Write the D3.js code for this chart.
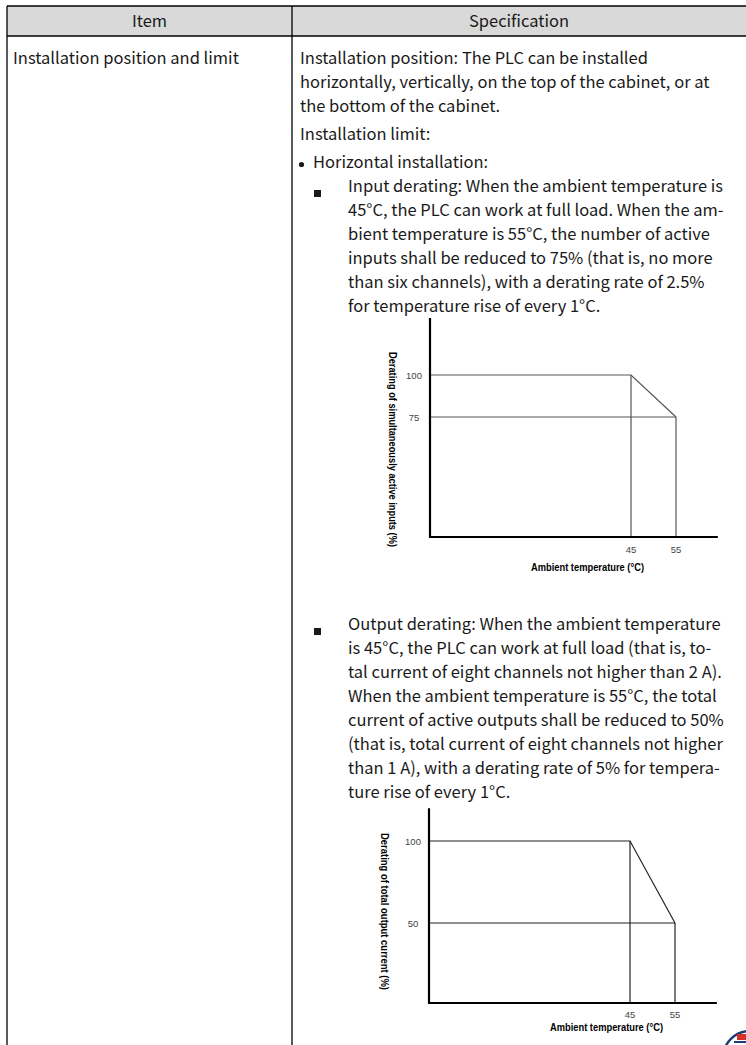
<!DOCTYPE html>
<html><head><meta charset="utf-8">
<script src="https://cdn.jsdelivr.net/npm/d3@7"></script>
<style>body{margin:0;background:#fff}svg{display:block}</style>
</head><body>
<script>
// ---- data ----
const headers = ["Item", "Specification"];
const itemText = "Installation position and limit";
const specPara1 = [
  "Installation position: The PLC can be installed",
  "horizontally, vertically, on the top of the cabinet, or at",
  "the bottom of the cabinet."
];
const specLimit = "Installation limit:";
const specBullet = "Horizontal installation:";
const inputText = [
  "Input derating: When the ambient temperature is",
  "45°C, the PLC can work at full load. When the am-",
  "bient temperature is 55°C, the number of active",
  "inputs shall be reduced to 75% (that is, no more",
  "than six channels), with a derating rate of 2.5%",
  "for temperature rise of every 1°C."
];
const outputText = [
  "Output derating: When the ambient temperature",
  "is 45°C, the PLC can work at full load (that is, to-",
  "tal current of eight channels not higher than 2 A).",
  "When the ambient temperature is 55°C, the total",
  "current of active outputs shall be reduced to 50%",
  "(that is, total current of eight channels not higher",
  "than 1 A), with a derating rate of 5% for tempera-",
  "ture rise of every 1°C."
];
const tempTicks = [45, 55];
const inputTicksY = [100, 75];
const inputCurve = [[0, 100], [45, 100], [55, 75]];
const outputTicksY = [100, 50];
const outputCurve = [[0, 100], [45, 100], [55, 50]];
const xTitle = "Ambient temperature (°C)";
const inputYTitle = "Derating of simultaneously active inputs (%)";
const outputYTitle = "Derating of total output current (%)";

// ---- drawing ----
const W = 746, H = 1045;
const svg = d3.select("body").append("svg").attr("width", W).attr("height", H);
const FONT = "'Noto Sans CJK SC','Noto Sans',sans-serif";
const TXT = "#1a1a1a";
const FS = 16.5, LH = 24;

const tbl = {left: 7, top: 6, headBot: 36, mid: 292, right: 760, bottom: 1060};
svg.append("rect").attr("x", tbl.left).attr("y", tbl.top)
  .attr("width", tbl.right - tbl.left).attr("height", tbl.headBot - tbl.top)
  .attr("fill", "#d9d9d9");
const lineG = svg.append("g").attr("stroke", "#000").attr("stroke-width", 1.3);
lineG.append("line").attr("x1", tbl.left).attr("x2", tbl.right).attr("y1", tbl.top).attr("y2", tbl.top);
lineG.append("line").attr("x1", tbl.left).attr("x2", tbl.right).attr("y1", tbl.headBot).attr("y2", tbl.headBot);
lineG.append("line").attr("x1", tbl.left).attr("x2", tbl.left).attr("y1", tbl.top).attr("y2", tbl.bottom);
lineG.append("line").attr("x1", tbl.mid).attr("x2", tbl.mid).attr("y1", tbl.top).attr("y2", tbl.bottom);

const hx = [(tbl.left + tbl.mid) / 2, (tbl.mid + W) / 2];
svg.selectAll("text.head").data(headers).join("text").attr("class", "head")
  .attr("x", (d, i) => hx[i]).attr("y", 26.5).attr("text-anchor", "middle")
  .attr("font-family", FONT).attr("font-size", FS).attr("fill", TXT).text(d => d);

function textLines(lines, x, y0) {
  svg.append("g").selectAll("text").data(lines).join("text")
    .attr("x", x).attr("y", (d, i) => y0 + i * LH)
    .attr("font-family", FONT).attr("font-size", FS).attr("fill", TXT).text(d => d);
}
textLines([itemText], 13, 64);
textLines(specPara1, 300, 64);
textLines([specLimit], 300, 140);
svg.append("circle").attr("cx", 301.5).attr("cy", 164.5).attr("r", 2.6).attr("fill", TXT);
textLines([specBullet], 313, 168);
svg.append("rect").attr("x", 314).attr("y", 190).attr("width", 7).attr("height", 7).attr("fill", TXT);
textLines(inputText, 348, 192);

const outY0 = 630;
svg.append("rect").attr("x", 314).attr("y", outY0 - 2).attr("width", 7).attr("height", 7).attr("fill", TXT);
textLines(outputText, 348, outY0);

function chart(cfg) {
  const x = d3.scaleLinear().domain([0, 45, 55]).range([cfg.x0, cfg.x0 + 201, cfg.x0 + 246]);
  const y = d3.scaleLinear().domain(cfg.yDom).range(cfg.yRange);
  const g = svg.append("g");
  const c = cfg.curve;
  const line = d3.line().x(d => x(d[0])).y(d => y(d[1]));
  const guides = [
    [[c[2][0], 0], [c[2][0], c[2][1]]],
    [[c[1][0], 0], [c[1][0], c[1][1]]],
    [[0, c[2][1]], [c[2][0], c[2][1]]]
  ];
  g.selectAll("path.guide").data(guides).join("path").attr("class", "guide")
    .attr("d", line).attr("fill", "none").attr("stroke", cfg.lineColor).attr("stroke-width", 1.2);
  g.append("path").datum(c).attr("d", line).attr("fill", "none")
    .attr("stroke", cfg.lineColor).attr("stroke-width", 1.2);
  g.append("path").datum([[0, cfg.yMax], [0, 0], [cfg.xMax, 0]]).attr("d", line)
    .attr("fill", "none").attr("stroke", "#000").attr("stroke-width", 2.2);
  g.selectAll("text.yt").data(cfg.yTicks).join("text").attr("class", "yt")
    .attr("x", cfg.x0 - 16).attr("y", d => y(d) + 3.5).attr("text-anchor", "middle")
    .attr("font-family", "'Liberation Sans',Arial,sans-serif").attr("font-size", 9.5)
    .attr("fill", "#444").text(d => d);
  g.selectAll("text.xt").data(tempTicks).join("text").attr("class", "xt")
    .attr("x", d => x(d)).attr("y", y(0) + cfg.xtOff).attr("text-anchor", "middle")
    .attr("font-family", "'Liberation Sans',Arial,sans-serif").attr("font-size", 9.5)
    .attr("fill", "#444").text(d => d);
  g.append("text").attr("x", cfg.xtX).attr("y", y(0) + cfg.xtitleOff)
    .attr("font-family", "'Liberation Sans',Arial,sans-serif").attr("font-weight", "bold")
    .attr("font-size", 10).attr("fill", "#000")
    .attr("textLength", 113).attr("lengthAdjust", "spacingAndGlyphs").text(xTitle);
  g.append("text").attr("transform", `translate(${cfg.ytX},${cfg.ytY}) rotate(90)`)
    .attr("font-family", "'Liberation Sans',Arial,sans-serif").attr("font-weight", "bold")
    .attr("font-size", 10).attr("fill", "#000")
    .attr("textLength", cfg.ytLen).attr("lengthAdjust", "spacingAndGlyphs").text(cfg.yTitle);
}

chart({x0: 430, yDom: [0, 75, 100], yRange: [537, 417, 375], yMax: 134, xMax: 64.3,
  curve: inputCurve, yTicks: inputTicksY, lineColor: "#555", xtOff: 16, xtitleOff: 34,
  xtX: 531, ytX: 389, ytY: 352, ytLen: 195, yTitle: inputYTitle});
chart({x0: 429, yDom: [0, 50, 100], yRange: [1003, 923, 841], yMax: 120, xMax: 64.3,
  curve: outputCurve, yTicks: outputTicksY, lineColor: "#222", xtOff: 15, xtitleOff: 28,
  xtX: 550, ytX: 381, ytY: 833, ytLen: 157, yTitle: outputYTitle});

const logo = svg.append("g");
logo.append("circle").attr("cx", 750).attr("cy", 1058).attr("r", 27)
  .attr("fill", "none").attr("stroke", "#1f3b73").attr("stroke-width", 2.5);
logo.append("rect").attr("x", 737).attr("y", 1034).attr("width", 9).attr("height", 6).attr("fill", "#d6302b");
logo.append("rect").attr("x", 734).attr("y", 1041).attr("width", 12).attr("height", 2).attr("fill", "#1f3b73");
</script>
</body></html>
